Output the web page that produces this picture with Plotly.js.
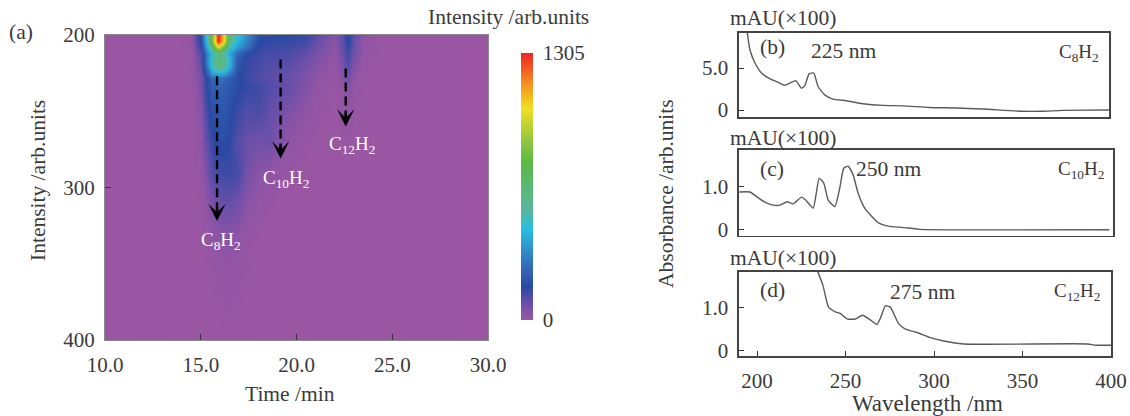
<!DOCTYPE html>
<html><head><meta charset="utf-8">
<script src="https://cdn.plot.ly/plotly-3.0.1.min.js"></script>
<style>html,body{margin:0;padding:0;background:#fff}#c{width:1130px;height:416px}</style>
</head><body><div id="c"></div>
<script>
// Heatmap (a)
const timeMin = [10,13,14.5,15,15.3,15.6,15.9,16.2,16.5,16.9,17.4,18,18.5,19,19.6,20.5,21.2,22,22.4,22.7,23,23.5,24.5,30];
const intensityAxis = [200,204,208,212,216,220,224,228,235,250,270,290,310,330,350,375,400];
const zRows = [
 [0,0,10,200,500,800,1305,1050,680,470,340,190,170,170,160,150,90,40,90,170,90,25,6,0],
 [0,0,10,180,470,840,1305,1050,620,430,310,170,150,150,150,130,75,32,90,170,80,20,5,0],
 [0,0,10,150,400,680,1000,800,500,380,270,155,140,140,135,110,65,28,85,150,75,18,4,0],
 [0,0,8,110,320,460,620,520,400,260,165,140,125,125,120,90,55,24,75,135,65,15,3,0],
 [0,0,8,95,320,500,640,590,440,220,150,130,115,115,105,75,45,20,65,120,55,12,2,0],
 [0,0,7,85,300,500,620,570,440,205,145,125,110,105,95,65,38,16,55,105,45,10,2,0],
 [0,0,6,75,230,400,450,430,340,185,140,120,105,95,85,55,30,12,45,85,35,8,0,0],
 [0,0,6,65,175,250,280,260,220,175,135,115,100,90,80,50,25,10,35,70,25,6,0,0],
 [0,0,6,55,170,215,225,220,205,175,150,135,115,95,85,45,18,6,22,45,15,4,0,0],
 [0,0,4,40,135,185,200,200,185,140,110,125,90,70,50,25,10,4,12,22,8,3,0,0],
 [0,0,3,25,95,150,175,175,160,105,80,65,75,50,25,10,4,0,4,8,2,0,0,0],
 [0,0,2,15,60,110,130,135,135,130,60,35,25,15,8,2,0,0,0,0,0,0,0,0],
 [0,0,0,8,30,55,70,85,85,70,35,18,10,5,2,0,0,0,0,0,0,0,0,0],
 [0,0,0,4,14,24,32,40,40,30,14,6,3,0,0,0,0,0,0,0,0,0,0,0],
 [0,0,0,2,6,10,14,18,18,14,8,3,0,0,0,0,0,0,0,0,0,0,0,0],
 [0,0,0,0,3,5,7,9,9,7,4,2,0,0,0,0,0,0,0,0,0,0,0,0],
 [0,0,0,0,1,3,4,5,5,4,2,0,0,0,0,0,0,0,0,0,0,0,0,0]
];
const heatColors = [[0,'#9a56a2'],[0.02,'#8f54a6'],[0.06,'#6a4fa9'],[0.125,'#2a49a4'],[0.21,'#3570bd'],[0.34,'#27bde0'],[0.41,'#58b7a0'],[0.59,'#5cb947'],[0.70,'#a8cc3a'],[0.79,'#f0e020'],[0.88,'#f5951f'],[1,'#ee2323']];
const colorbarTicks = [0,1305];
const arrowTimes = [15.85,19.17,22.57];
const arrowStarts = [227,216,222];
const arrowEnds = [322,281,260];
const arrowLabels = ['C<sub>8</sub>H<sub>2</sub>','C<sub>10</sub>H<sub>2</sub>','C<sub>12</sub>H<sub>2</sub>'];
const arrowLabelY = [335,294.6,272];
const arrowLabelX = [16.04,19.45,22.9];
// Spectra
const bNm = [194.5,196,198.9,202.6,207.4,212,215.8,218.7,222,225.3,227.2,229.6,232.3,234.7,238.5,243.2,250.8,260.2,271.5,282.8,297.9,313,328,350.8,362,373.4,398.9,400];
const bAbs = [9.25,7.18,5.6,4.4,3.7,3.3,2.95,3.2,3.5,2.6,2.9,4.3,4.4,2.8,1.8,1.3,1.1,0.75,0.55,0.5,0.3,0.24,0.12,-0.15,-0.15,-0.04,0,0];
const cNm = [190,196,199.8,204.5,209.2,213,217.2,220.6,225.3,228.1,231.9,235.3,237.9,240.4,244.2,247,249.2,251.7,254.5,257.4,261.1,268.7,275.3,286.6,292.3,400];
const cAbs = [0.88,0.88,0.77,0.64,0.57,0.57,0.65,0.6,0.76,0.67,0.5,1.2,1.09,0.69,0.54,0.98,1.44,1.49,1.29,0.85,0.5,0.16,0.07,0.03,0,-0.01];
const dNm = [234.3,237.2,240.4,244.2,247,251.1,255.5,259.6,264,267.7,270,272.5,275.3,280,283.8,290.4,297.9,305.5,316.8,386.6,391.3,400];
const dAbs = [1.86,1.54,1.02,0.91,0.87,0.74,0.74,0.83,0.72,0.61,0.79,1.05,1.02,0.63,0.5,0.42,0.3,0.22,0.15,0.15,0.12,0.12];
const wavelengthTicks = [200,250,300,350,400];
const timeTicks = [10,15,20,25,30];
const timeTickText = ['10.0','15.0','20.0','25.0','30.0'];

const W=1130,H=416, serif='"Liberation Serif",serif', ink='#3a3a3a';
const fx=(a,b)=>[a/W,b/W], fy=(t,b)=>[1-b/H,1-t/H];
const tf={family:serif,size:21,color:ink};
const af={family:serif,size:21.5,color:ink};
const traces=[{type:'heatmap',x:timeMin,y:intensityAxis,z:zRows,zmin:0,zmax:1305,zsmooth:'best',colorscale:heatColors,xaxis:'x',yaxis:'y',
  colorbar:{x:521/W,xanchor:'left',xpad:0,y:1-186.5/H,yanchor:'middle',ypad:0,len:267/H,lenmode:'fraction',thickness:12,outlinewidth:0,tickvals:colorbarTicks,ticktext:['0','1305'],ticks:'outside',ticklen:6,tickcolor:'rgba(0,0,0,0)',tickfont:tf}}];
arrowTimes.forEach((t,i)=>traces.push({type:'scatter',mode:'lines',x:[t,t],y:[arrowStarts[i],arrowEnds[i]-6],line:{color:'#000',width:2.4,dash:'9px,5px'},xaxis:'x',yaxis:'y',showlegend:false}));
const line=(x,y,a,b)=>({type:'scatter',mode:'lines',x,y,xaxis:a,yaxis:b,showlegend:false,line:{color:'#5a5a5a',width:1.4,shape:'spline',smoothing:0.5}});
traces.push(line(bNm,bAbs,'x2','y2'),line(cNm,cAbs,'x3','y3'),line(dNm,dAbs,'x4','y4'));

const box={showline:true,linecolor:'#444',linewidth:1.6,mirror:true,ticks:'inside',ticklen:5,tickcolor:'#333',tickfont:tf,ticklabelstandoff:5,showgrid:false,zeroline:false};
const ann=[];
const paper=(t,x,y,o={})=>ann.push(Object.assign({text:t,x:x/W,y:1-y/H,xref:'paper',yref:'paper',showarrow:false,font:af,xanchor:'center',yanchor:'middle'},o));
arrowTimes.forEach((t,i)=>{
 ann.push({x:t,y:arrowEnds[i],ax:t,ay:arrowEnds[i]-10,xref:'x',yref:'y',axref:'x',ayref:'y',text:'',showarrow:true,arrowhead:3,arrowsize:1.2,arrowwidth:2.4,arrowcolor:'#000'});
 ann.push({x:arrowLabelX[i],y:arrowLabelY[i],xref:'x',yref:'y',text:arrowLabels[i],showarrow:false,font:{family:serif,size:19,color:'#fff'}});
});
paper('(a)',21,32);
paper('Intensity /arb.units',508,17);
paper('Intensity /arb.units',38,181,{textangle:-90});
paper('Time /min',290,394);
paper('Absorbance /arb.units',666,194,{textangle:-90});
paper('Wavelength /nm',927,403,{font:{family:serif,size:23,color:ink}});
paper('mAU(×100)',783,18);paper('mAU(×100)',783,138);paper('mAU(×100)',783,258);
paper('(b)',772,47);paper('225 nm',843,51);paper('C<sub>8</sub>H<sub>2</sub>',1079,53,{font:{family:serif,size:19,color:ink}});
paper('(c)',772,169);paper('250 nm',888,169);paper('C<sub>10</sub>H<sub>2</sub>',1081,170,{font:{family:serif,size:19,color:ink}});
paper('(d)',772,290);paper('275 nm',922,292);paper('C<sub>12</sub>H<sub>2</sub>',1077,292,{font:{family:serif,size:19,color:ink}});

const layout={width:W,height:H,margin:{l:0,r:0,t:0,b:0},paper_bgcolor:'#fff',plot_bgcolor:'#fff',showlegend:false,font:tf,annotations:ann,
 xaxis:{domain:fx(105,488),range:[10,30],tickvals:timeTicks,ticktext:timeTickText,ticks:'inside',ticklen:6,tickcolor:'#333',tickfont:tf,ticklabelstandoff:6,showgrid:false,zeroline:false,showline:true,linecolor:'#8a8a8a',mirror:true,anchor:'y'},
 yaxis:{domain:fy(35,340),range:[400,200],tickvals:[200,300,400],ticks:'inside',ticklen:6,tickcolor:'#333',tickfont:tf,ticklabelstandoff:5,showgrid:false,zeroline:false,showline:true,linecolor:'#8a8a8a',mirror:true,anchor:'x'},
 xaxis2:Object.assign({},box,{domain:fx(739,1109),range:[189.8,400],showticklabels:false,ticks:'',anchor:'y2'}),
 yaxis2:Object.assign({},box,{domain:fy(33,117),range:[-0.83,9.17],tickvals:[0,5],ticktext:['0','5.0'],anchor:'x2'}),
 xaxis3:Object.assign({},box,{domain:fx(739,1113),range:[189.8,402],showticklabels:false,ticks:'',anchor:'y3'}),
 yaxis3:Object.assign({},box,{domain:fy(150,235.7),range:[-0.15,1.87],tickvals:[0,1],ticktext:['0','1.0'],anchor:'x3'}),
 xaxis4:Object.assign({},box,{domain:fx(739,1111),range:[189.8,400],tickvals:wavelengthTicks,anchor:'y4'}),
 yaxis4:Object.assign({},box,{domain:fy(271.7,356),range:[-0.135,1.858],tickvals:[0,1],ticktext:['0','1.0'],anchor:'x4'})
};
Plotly.newPlot('c',traces,layout,{displayModeBar:false,staticPlot:true});
</script></body></html>
